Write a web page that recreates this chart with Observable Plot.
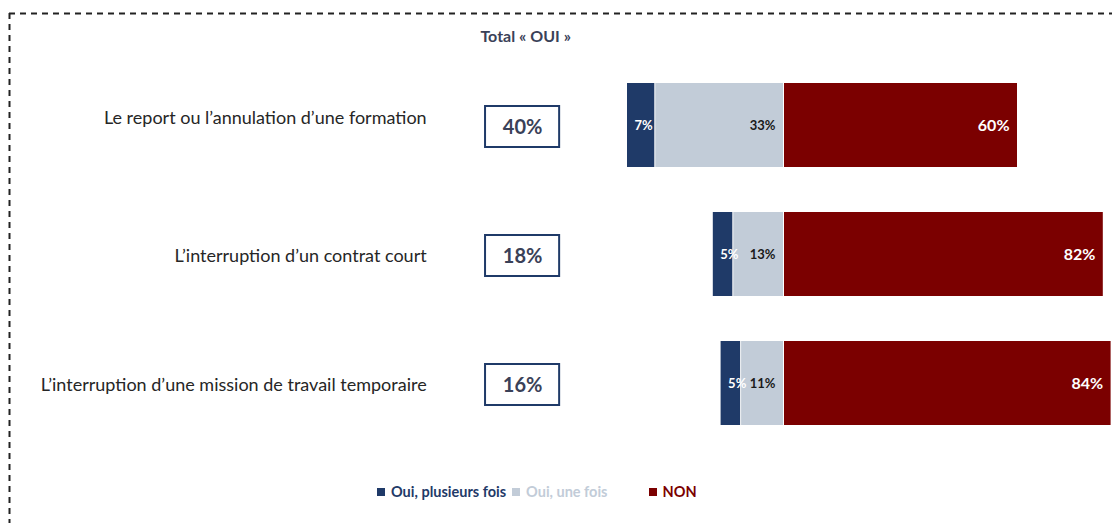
<!DOCTYPE html>
<html><head><meta charset="utf-8">
<script src="https://cdn.jsdelivr.net/npm/d3@7"></script>
<script src="https://cdn.jsdelivr.net/npm/@observablehq/plot@0.6"></script>
<style>
body{margin:0;background:#fff;font-family:Lato,"Open Sans",sans-serif;}
#wrap{position:relative;width:1112px;height:523px;overflow:hidden;background:#fff;}
#border{position:absolute;left:0;top:0;}
#chart{position:absolute;left:0;top:0;}
#legend{position:absolute;left:377px;top:483px;display:flex;align-items:center;font:bold 14.5px Lato,sans-serif;line-height:18px;white-space:nowrap;}
#legend .sw{display:inline-block;width:8px;height:8px;margin-right:6px;}
#legend .it{display:flex;align-items:center;}
</style></head>
<body>
<div id="wrap">
  <div id="chart"></div>
  <svg id="border" width="1112" height="523">
    <line x1="9" y1="13.5" x2="1112" y2="13.5" stroke="#222" stroke-width="2" stroke-dasharray="6,5"/>
    <line x1="9.5" y1="13" x2="9.5" y2="523" stroke="#222" stroke-width="2" stroke-dasharray="6,5"/>
  </svg>
  <div id="legend"></div>
</div>
<script>
const categories = [
  "Le report ou l’annulation d’une formation",
  "L’interruption d’un contrat court",
  "L’interruption d’une mission de travail temporaire"
];
const ouiPlusieurs = [7, 5, 5];
const ouiUneFois = [33, 13, 11];
const non = [60, 82, 84];
const totalOui = [40, 18, 16];
const seriesNames = ["Oui, plusieurs fois", "Oui, une fois", "NON"];
const colors = ["#1f3a68", "#c2ccd8", "#7b0000"];
const legendText = ["#1f3a68", "#c2ccd8", "#7b0000"];

const rows = categories.map((c, i) => ({cat: c, p: ouiPlusieurs[i], u: ouiUneFois[i], n: non[i], t: totalOui[i]}));

const font = "Lato, 'Open Sans', sans-serif";
const boxX1 = -76.4, boxX2 = -57.4, boxMid = (boxX1 + boxX2) / 2;

const chart = Plot.plot({
  width: 1112,
  height: 523,
  marginTop: 0, marginBottom: 0, marginLeft: 0, marginRight: 0,
  style: {fontFamily: font, background: "transparent"},
  x: {type: "linear", domain: [0, 100], range: [783, 1173], axis: null},
  y: {type: "band", domain: categories, range: [37.85, 470], paddingInner: 0.35, paddingOuter: 0.35, axis: null},
  marks: [
    Plot.barX(rows, {y: "cat", x1: d => -(d.p + d.u), x2: d => -d.u, fill: colors[0]}),
    Plot.barX(rows, {y: "cat", x1: d => -d.u, x2: 0, fill: colors[1], insetLeft: 1}),
    Plot.barX(rows, {y: "cat", x1: 0, x2: d => d.n, fill: colors[2], insetLeft: 1}),
    Plot.text(rows, {y: "cat", x: d => -(d.p + d.u), dx: 7, text: d => d.p + "%", textAnchor: "start", fill: "white", fontWeight: "bold", fontSize: 13, fontFamily: font}),
    Plot.text(rows, {y: "cat", x: 0, dx: -8, text: d => d.u + "%", textAnchor: "end", fill: "#1a1a1a", fontWeight: "bold", fontSize: 13, fontFamily: font}),
    Plot.text(rows, {y: "cat", x: d => d.n, dx: -8, text: d => d.n + "%", textAnchor: "end", fill: "white", fontWeight: "bold", fontSize: 16, fontFamily: font}),
    Plot.text(rows, {filter: (d, i) => i === 0, y: "cat", x: -91.5, text: "cat", textAnchor: "end", fill: "#262626", fontSize: 18, fontFamily: font, dy: -7}),
    Plot.text(rows, {filter: (d, i) => i > 0, y: "cat", x: -91.5, text: "cat", textAnchor: "end", fill: "#262626", fontSize: 18, fontFamily: font, dy: 2}),
    Plot.barX(rows, {y: "cat", x1: boxX1, x2: boxX2, fill: "white", stroke: "#1f3a68", strokeWidth: 2, insetTop: 23, insetBottom: 20}),
    Plot.text(rows, {y: "cat", x: boxMid, text: d => d.t + "%", fill: "#3a4158", fontWeight: "bold", fontSize: 20, fontFamily: font, dy: 2}),
    Plot.text(["Total « OUI »"], {x: boxMid + 0.8, frameAnchor: "top", dy: 30, text: d => d, fill: "#3a4158", fontWeight: "bold", fontSize: 16, fontFamily: font})
  ]
});
document.getElementById("chart").appendChild(chart);

const legend = document.getElementById("legend");
const gaps = [6, 41, 0];
seriesNames.forEach((s, i) => {
  const it = document.createElement("span");
  it.className = "it";
  it.style.marginRight = gaps[i] + "px";
  it.innerHTML = `<span class="sw" style="background:${colors[i]}"></span><span style="color:${legendText[i]}">${s}</span>`;
  legend.appendChild(it);
});
</script>
</body></html>
